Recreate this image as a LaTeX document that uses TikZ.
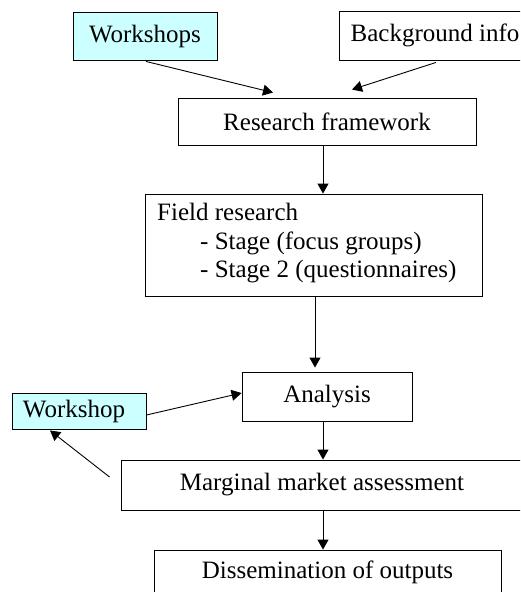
\documentclass[tikz,border=0pt]{standalone}
\usepackage{fontspec}
\setmainfont{Liberation Serif}
\usetikzlibrary{arrows.meta,calc}
\definecolor{lightcyan}{HTML}{CCFFFF}
\begin{document}
\begin{tikzpicture}[x=1pt,y=-1pt,
  box/.style={draw=black,line width=0.9pt,rectangle,inner sep=0pt,font=\fontsize{25}{28.5}\selectfont},
  arr/.style={line width=0.9pt,-{Triangle[length=10pt,width=11pt]}},
  txt/.style={inner sep=0pt,font=\fontsize{25}{28.5}\selectfont}]
  \useasboundingbox (0,0) rectangle (520,592);
  \clip (0,0) rectangle (520,592);
  \node[box,fill=lightcyan,minimum width=144,minimum height=48] (ws) at (145,36) {Workshops};
  \node[box,fill=white,minimum width=192,minimum height=49] (bg) at (435,35.5) {Background info};
  \node[box,minimum width=298,minimum height=47] (rf) at (327,121.5) {Research framework};
  \node[box,minimum width=337,minimum height=102] (fr) at (313.5,245) {};
  \node[txt,anchor=west,align=left] (frt) at (157,243.5) {Field research\\\hspace*{43pt}- Stage (focus groups)\\\hspace*{43pt}- Stage 2 (questionnaires)};
  \node[box,minimum width=170,minimum height=49] (an) at (327,396.5) {Analysis};
  \node[box,fill=lightcyan,minimum width=134,minimum height=36] (wk) at (79,411) {Workshop\hspace*{10pt}};
  \node[box,minimum width=402,minimum height=50] (mm) at (322,485) {Marginal market assessment};
  \node[box,minimum width=347,minimum height=44] (ds) at (327.5,572) {Dissemination of outputs};
  \draw[arr] ($(ws.south)+(1,1)$) -- ($(rf.north)+(-54,-5)$);
  \draw[arr] ($(bg.south)+(1,2)$) -- ($(rf.north)+(25,-8)$);
  \draw[arr] ($(rf.south)+(-4,0)$) -- ($(fr.north)+(9.5,0)$);
  \draw[arr] ($(fr.south)+(1.5,0)$) -- ($(an.north)+(-12,-4)$);
  \draw[arr] ($(wk.east)+(0,4)$) -- ($(an.west)+(0,-3.5)$);
  \draw[arr] ($(an.south)+(-4,0)$) -- ($(mm.north)+(1,0)$);
  \draw[arr] ($(mm.west)+(-11,-8)$) -- ($(wk.south)+(-29,1)$);
  \draw[arr] ($(mm.south)+(1,0)$) -- ($(ds.north)+(-4.5,0)$);
\end{tikzpicture}
\end{document}
